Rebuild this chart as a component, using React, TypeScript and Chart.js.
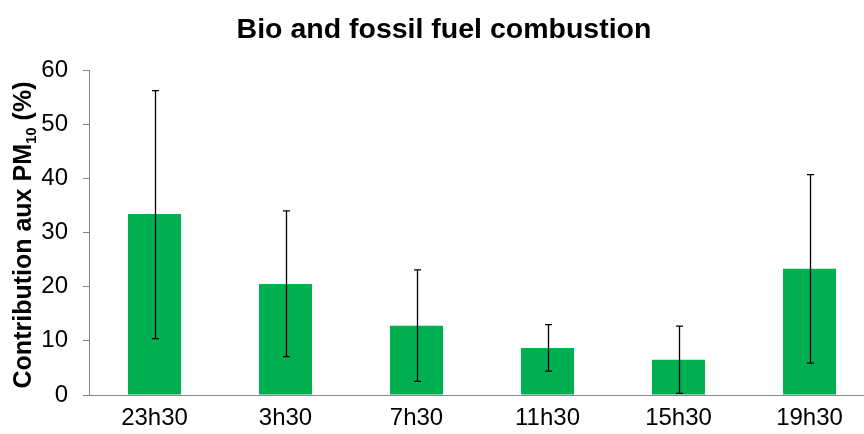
import React, { useEffect, useRef } from "react";
import { Chart, registerables } from "chart.js";

Chart.register(...registerables);

const categories = ["23h30", "3h30", "7h30", "11h30", "15h30", "19h30"];
const values = [33.4, 20.5, 12.8, 8.7, 6.5, 23.3];
const errLow = [10.4, 7.1, 2.5, 4.4, 0.3, 5.9];
const errHigh = [56.2, 34.0, 23.1, 13.0, 12.7, 40.7];
const yTicks = [0, 10, 20, 30, 40, 50, 60];

const titleText = "Bio and fossil fuel combustion";
const FONT = "'Liberation Sans', Arial, sans-serif";

const overlayPlugin = {
  id: "overlay",
  afterDatasetsDraw(chart: any) {
    const ctx = chart.ctx;
    const meta = chart.getDatasetMeta(0);
    const y = chart.scales.y;
    ctx.save();
    ctx.strokeStyle = "#000";
    ctx.lineWidth = 1.3;
    meta.data.forEach((bar: any, i: number) => {
      const x = Math.round(bar.x) + 0.5;
      const yl = y.getPixelForValue(errLow[i]);
      const yh = y.getPixelForValue(errHigh[i]);
      ctx.beginPath();
      ctx.moveTo(x, yl);
      ctx.lineTo(x, yh);
      ctx.moveTo(x - 3.5, yl);
      ctx.lineTo(x + 3.5, yl);
      ctx.moveTo(x - 3.5, yh);
      ctx.lineTo(x + 3.5, yh);
      ctx.stroke();
    });
    ctx.restore();
  },
  afterDraw(chart: any) {
    const ctx = chart.ctx;
    ctx.save();
    ctx.fillStyle = "#000";
    // title
    ctx.font = `bold 28.5px ${FONT}`;
    ctx.textAlign = "center";
    ctx.textBaseline = "alphabetic";
    ctx.fillText(titleText, 444, 38);
    // y title with subscript
    const mainFont = `bold 25px ${FONT}`;
    const subFont = `bold 15px ${FONT}`;
    const p1 = "Contribution aux PM";
    const p2 = "10";
    const p3 = " (%)";
    ctx.font = mainFont;
    const w1 = ctx.measureText(p1).width;
    const w3 = ctx.measureText(p3).width;
    ctx.font = subFont;
    const w2 = ctx.measureText(p2).width;
    const W = w1 + w2 + w3;
    ctx.translate(31, 235);
    ctx.rotate(-Math.PI / 2);
    ctx.textAlign = "left";
    let u = -W / 2;
    ctx.font = mainFont;
    ctx.fillText(p1, u, 0);
    u += w1;
    ctx.font = subFont;
    ctx.fillText(p2, u, 5);
    u += w2;
    ctx.font = mainFont;
    ctx.fillText(p3, u, 0);
    ctx.restore();
  },
};

export default function App() {
  const ref = useRef<HTMLCanvasElement | null>(null);
  useEffect(() => {
    document.body.style.overflow = "hidden";
    const chart = new Chart(ref.current as HTMLCanvasElement, {
      type: "bar",
      data: {
        labels: categories,
        datasets: [
          {
            data: values,
            backgroundColor: "#00B050",
            borderWidth: 0,
            categoryPercentage: 1,
            barPercentage: 0.405,
          },
        ],
      },
      options: {
        animation: false,
        responsive: false,
        devicePixelRatio: 1,
        layout: { padding: { top: 70, left: 0, right: 0, bottom: 0 } },
        plugins: {
          legend: { display: false },
          title: { display: false },
          tooltip: { enabled: false },
        },
        scales: {
          x: {
            offset: true,
            grid: { display: false, drawTicks: false },
            border: { display: true, color: "#868686", width: 1 },
            ticks: {
              color: "#000",
              font: { family: FONT, size: 24 },
              padding: 9,
              maxRotation: 0,
              autoSkip: false,
            },
            afterFit(scale: any) {
              scale.height = 39;
            },
          },
          y: {
            min: 0,
            max: 60,
            afterBuildTicks(scale: any) {
              scale.ticks = yTicks.map((v) => ({ value: v }));
            },
            grid: {
              display: true,
              drawOnChartArea: false,
              drawTicks: true,
              tickLength: 6,
              color: "#868686",
            },
            border: { display: true, color: "#868686", width: 1 },
            ticks: {
              color: "#000",
              font: { family: FONT, size: 24 },
              padding: 15,
            },
            afterFit(scale: any) {
              scale.width = 89;
            },
          },
        },
      },
      plugins: [overlayPlugin],
    });
    return () => chart.destroy();
  }, []);
  return (
    <div style={{ position: "fixed", left: 0, top: 0, width: 875, height: 434 }}>
      <canvas ref={ref} width={875} height={434} />
    </div>
  );
}
